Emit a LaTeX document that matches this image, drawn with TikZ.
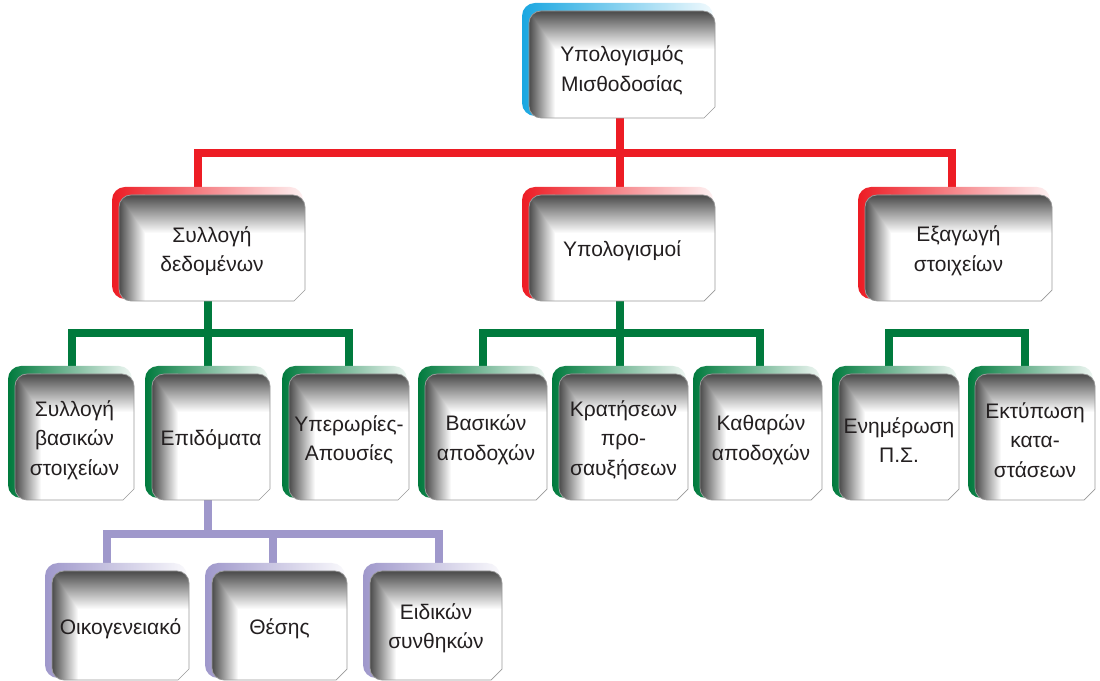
\documentclass[tikz,border=0pt]{standalone}
\usepackage{fontspec}
\setmainfont{Liberation Sans}
\usetikzlibrary{calc}
\pgfdeclarelayer{bg}\pgfsetlayers{bg,main}
\definecolor{cred}{HTML}{ED1C24}
\definecolor{cgreen}{HTML}{007A3D}
\definecolor{cpurple}{HTML}{9F98CB}
\definecolor{ccyan}{HTML}{1AA7E1}
\definecolor{ctext}{HTML}{231F20}
\tikzset{
  boxtext/.style={inner sep=0pt, align=center, text=ctext, font=\fontsize{21}{29.5}\selectfont},
  boxnode/.style={inner sep=0pt},
  conn/.style={line width=8pt, line join=miter, line cap=rect},
  leftshadow/.style={left color=black!72, middle color=black!24, right color=white},
  topshadow/.style={top color=black!72, middle color=black!24, bottom color=white},
}
% #1 text shift, #2 name, #3..#6 backing box in pixels (y from top), #7 colour, #8 text
\newcommand\orgbox[8][-3]{%
\pgfmathsetmacro\bxa{#3}\pgfmathsetmacro\bya{680-(#4)}%
\pgfmathsetmacro\bxb{#5}\pgfmathsetmacro\byb{680-(#6)}%
\pgfmathsetmacro\fxa{#3+7}\pgfmathsetmacro\fya{680-(#4)-8}%
\pgfmathsetmacro\fxb{#5+2}\pgfmathsetmacro\fyb{680-(#6)-2}%
\shade[rounded corners=13pt, left color=#7, right color=#7!6] (\bxa,\bya) rectangle (\bxb,\byb);
\def\fp{(\fxa,{\fya-12}) arc[start angle=180,end angle=90,radius=12] -- ({\fxb-12},\fya) arc[start angle=90,end angle=0,radius=12] -- (\fxb,{\fyb+11}) -- ({\fxb-11},\fyb) -- ({\fxa+12},\fyb) arc[start angle=270,end angle=180,radius=12] -- cycle}%
\begin{scope}
\clip \fp;
\fill[white] (\fxa,\fyb) rectangle (\fxb,\fya);
\shade[leftshadow] ({\fxa-0.5},{\fyb-1}) rectangle ({\fxa+26},{\fya+1});
\begin{scope}
\clip ({\fxa-0.5},{\fya+1}) -- ({\fxb+1},{\fya+1}) -- ({\fxb+1},{\fya-38}) -- ({\fxa+26},{\fya-38}) -- cycle;
\shade[topshadow] ({\fxa-1},{\fya-38}) rectangle ({\fxb+1},{\fya+0.5});
\end{scope}
\end{scope}
\draw[black!40, line width=0.7pt] \fp;
\node[boxnode, minimum width={(\fxb-\fxa)*1pt}, minimum height={(\fya-\fyb)*1pt}] (#2) at ({(\fxa+\fxb)/2},{(\fya+\fyb)/2}) {};
\node[boxtext] (#2-t) at ([yshift=#1pt]#2.center) {#8};
}
\begin{document}
\begin{tikzpicture}[x=1pt,y=1pt]
\useasboundingbox (0,0) rectangle (1100,680);
% boxes (pixel coordinates of the coloured backing, y measured from the top)
\orgbox[-6]{top}{522}{3}{713}{116}{ccyan}{Υπολογισμός\\Μισθοδοσίας}
\orgbox{s1}{112}{187}{303}{299}{cred}{Συλλογή\\δεδομένων}
\orgbox{u}{522}{187}{713}{299}{cred}{Υπολογισμοί}
\orgbox{e}{858}{187}{1050}{299}{cred}{Εξαγωγή\\στοιχείων}
\orgbox{g1}{8}{366}{132}{498}{cgreen}{Συλλογή\\βασικών\\στοιχείων}
\orgbox{g2}{145}{366}{268}{498}{cgreen}{Επιδόματα}
\orgbox{g3}{282}{366}{407}{498}{cgreen}{Υπερωρίες-\\Απουσίες}
\orgbox{m1}{418}{366}{545}{498}{cgreen}{Βασικών\\αποδοχών}
\orgbox{m2}{552}{366}{686}{498}{cgreen}{Κρατήσεων\\προ-\\σαυξήσεων}
\orgbox{m3}{693}{366}{820}{498}{cgreen}{Καθαρών\\αποδοχών}
\orgbox{r1}{832}{366}{957}{498}{cgreen}{Ενημέρωση\\Π.Σ.}
\orgbox{r2}{968}{366}{1093}{498}{cgreen}{Εκτύπωση\\κατα-\\στάσεων}
\orgbox{p1}{45}{563}{187}{678}{cpurple}{Οικογενειακό}
\orgbox{p2}{205}{563}{345}{678}{cpurple}{Θέσης}
\orgbox{p3}{363}{563}{500}{678}{cpurple}{Ειδικών\\συνθηκών}
% connector anchor points
\coordinate (rbar) at (0,527);
\coordinate (gbar) at (0,346.5);
\coordinate (pbar) at (0,146);
\coordinate (topS) at ([xshift=-2.5pt]top.south);
\coordinate (s1N) at ([xshift=-14pt]s1.north);
\coordinate (uN) at ([xshift=-2.5pt]u.north);
\coordinate (eN) at ([xshift=-6.5pt]e.north);
\coordinate (s1S) at ([xshift=-4.5pt]s1.south);
\coordinate (uS) at ([xshift=-2.5pt]u.south);
\coordinate (g1N) at ([xshift=-2.5pt]g1.north);
\coordinate (g2N) at ([xshift=-3.5pt]g2.north);
\coordinate (g3N) at ([xshift=0pt]g3.north);
\coordinate (m1N) at ([xshift=-3pt]m1.north);
\coordinate (m2N) at ([xshift=-4pt]m2.north);
\coordinate (m3N) at ([xshift=-1pt]m3.north);
\coordinate (r1N) at ([xshift=-10pt]r1.north);
\coordinate (r2N) at ([xshift=-10pt]r2.north);
\coordinate (g2S) at ([xshift=-3.5pt]g2.south);
\coordinate (p1N) at ([xshift=-13.5pt]p1.north);
\coordinate (p2N) at ([xshift=-6.5pt]p2.north);
\coordinate (p3N) at ([xshift=3pt]p3.north);
\begin{pgfonlayer}{bg}
\draw[conn, cred] (topS) -- (topS |- rbar);
\draw[conn, cred] (s1N) |- (eN |- rbar) -- (eN);
\draw[conn, cred] (uN) -- (uN |- rbar);
\draw[conn, cgreen] (s1S) -- (s1S |- gbar);
\draw[conn, cgreen] (g1N) |- (g3N |- gbar) -- (g3N);
\draw[conn, cgreen] (g2N) -- (g2N |- gbar);
\draw[conn, cgreen] (uS) -- (uS |- gbar);
\draw[conn, cgreen] (m1N) |- (m3N |- gbar) -- (m3N);
\draw[conn, cgreen] (m2N) -- (m2N |- gbar);
\draw[conn, cgreen] (r1N) |- (r2N |- gbar) -- (r2N);
\draw[conn, cpurple] (g2S) -- (g2S |- pbar);
\draw[conn, cpurple] (p1N) |- (p3N |- pbar) -- (p3N);
\draw[conn, cpurple] (p2N) -- (p2N |- pbar);
\end{pgfonlayer}
\end{tikzpicture}
\end{document}
